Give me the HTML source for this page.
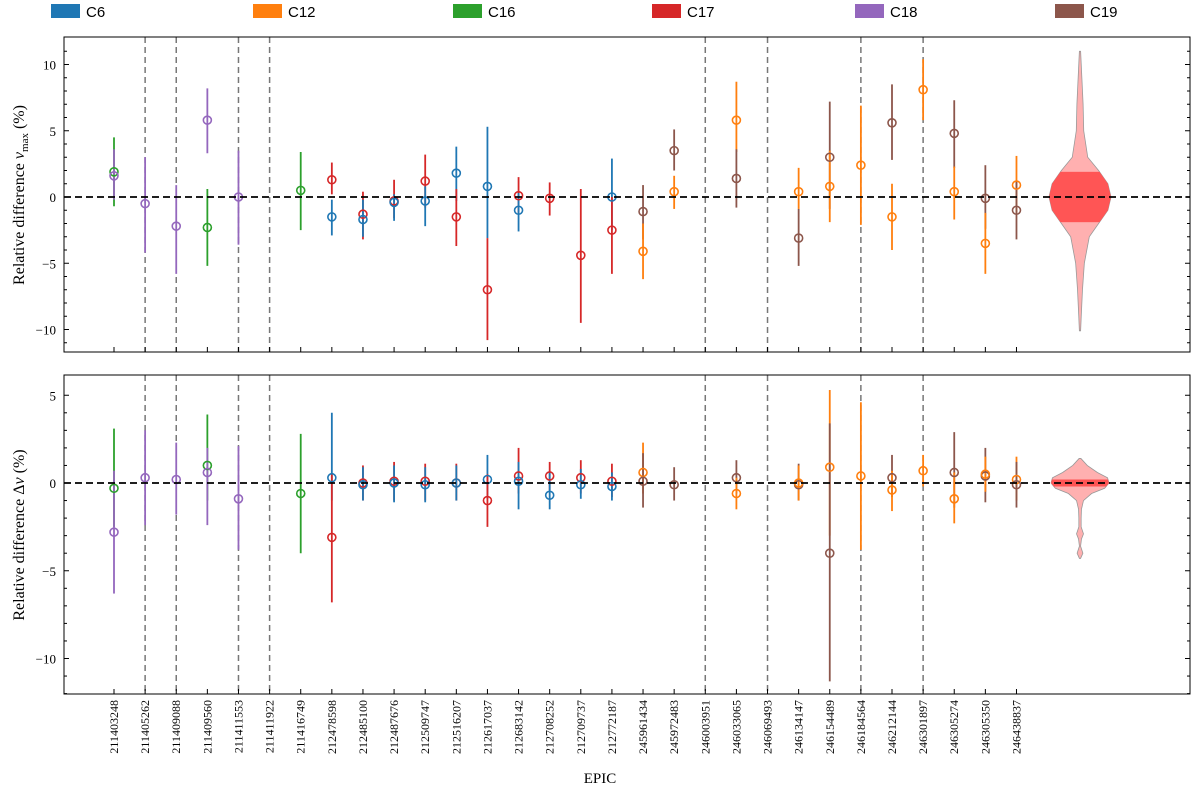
<!DOCTYPE html>
<html><head><meta charset="utf-8"><style>
body{margin:0;background:#fff}
svg text{font-family:"Liberation Serif","DejaVu Serif",serif;fill:#000}
</style></head><body>
<svg id="c" width="1200" height="790" xmlns="http://www.w3.org/2000/svg"></svg>
<script>
const epics=["211403248","211405262","211409088","211409560","211411553","211411922","211416749","212478598","212485100","212487676","212509747","212516207","212617037","212683142","212708252","212709737","212772187","245961434","245972483","246003951","246033065","246069493","246134147","246154489","246184564","246212144","246301897","246305274","246305350","246438837"];
const campaigns=["C6","C12","C16","C17","C18","C19"];
const campColors=["#1f77b4","#ff7f0e","#2ca02c","#d62728","#9467bd","#8c564b"];
const dividers=[1,2,4,5,19,21,24,26];
// top panel: numax
const topIdx=[0,0,1,2,3,3,4,6,7,7,8,8,9,9,10,10,11,11,12,12,13,13,14,15,16,16,17,17,18,18,20,20,22,22,23,23,24,25,25,26,27,27,28,28,29,29];
const topCamp=["C16","C18","C18","C18","C18","C16","C18","C16","C17","C6","C17","C6","C17","C6","C17","C6","C6","C17","C6","C17","C17","C6","C17","C17","C6","C17","C19","C12","C19","C12","C12","C19","C12","C19","C19","C12","C12","C19","C12","C12","C19","C12","C19","C12","C12","C19"];
const topVal=[1.9,1.6,-0.5,-2.2,5.8,-2.3,0,0.5,1.3,-1.5,-1.3,-1.7,-0.3,-0.4,1.2,-0.3,1.8,-1.5,0.8,-7.0,0.1,-1.0,-0.1,-4.4,0,-2.5,-1.1,-4.1,3.5,0.4,5.8,1.4,0.4,-3.1,3.0,0.8,2.4,5.6,-1.5,8.1,4.8,0.4,-0.1,-3.5,0.9,-1.0];
const topLo=[-0.7,-0.2,-4.2,-5.8,3.3,-5.2,-3.6,-2.5,0.2,-2.9,-3.2,-3.0,-1.6,-1.8,-0.8,-2.2,-0.3,-3.7,-3.1,-10.8,-1.2,-2.6,-1.4,-9.5,-2.5,-5.8,-3.2,-6.2,2.0,-0.9,3.4,-0.8,-0.9,-5.2,-0.9,-1.9,-2.1,2.8,-4.0,5.8,2.2,-1.7,-2.4,-5.8,-1.2,-3.2];
const topHi=[4.5,3.6,3.0,0.9,8.2,0.6,3.5,3.4,2.6,-0.2,0.4,-0.2,1.3,0.2,3.2,0.8,3.8,0.6,5.3,-3.1,1.5,0.3,1.1,0.6,2.9,0.0,0.9,-2.0,5.1,1.6,8.7,3.6,2.2,-0.9,7.2,3.5,6.9,8.5,1.0,10.4,7.3,2.3,2.4,-1.2,3.1,1.2];
// bottom panel: delta nu
const botIdx=[0,0,1,2,3,3,4,6,7,7,8,8,9,9,10,10,11,11,12,12,13,13,14,14,15,15,16,16,17,17,18,20,20,22,22,23,23,24,25,25,26,27,27,28,28,29,29];
const botCamp=["C16","C18","C18","C18","C16","C18","C18","C16","C6","C17","C17","C6","C17","C6","C17","C6","C17","C6","C6","C17","C17","C6","C17","C6","C17","C6","C17","C6","C12","C19","C19","C19","C12","C19","C12","C12","C19","C12","C19","C12","C12","C19","C12","C19","C12","C12","C19"];
const botVal=[-0.3,-2.8,0.3,0.2,1.0,0.6,-0.9,-0.6,0.3,-3.1,0.0,-0.1,0.1,0.0,0.1,-0.1,0.0,0.0,0.2,-1.0,0.4,0.1,0.4,-0.7,0.3,-0.1,0.1,-0.2,0.6,0.1,-0.1,0.3,-0.6,-0.1,0.0,0.9,-4.0,0.4,0.3,-0.4,0.7,0.6,-0.9,0.4,0.5,0.2,-0.1];
const botLo=[-2.5,-6.3,-2.4,-1.8,-1.0,-2.4,-3.8,-4.0,-1.0,-6.8,-1.0,-1.0,-1.0,-1.1,-1.0,-1.1,-1.0,-1.0,-0.9,-2.5,-0.6,-1.5,-0.4,-1.5,-0.6,-0.9,-0.8,-1.0,-0.6,-1.4,-1.0,-0.6,-1.5,-1.0,-1.0,-3.0,-11.3,-3.8,-0.8,-1.6,-0.2,-1.4,-2.3,-1.1,-0.5,-1.0,-1.4];
const botHi=[3.1,0.7,3.0,2.3,3.9,2.0,2.1,2.8,4.0,0.5,1.0,0.9,1.2,1.0,1.1,0.9,1.1,1.0,1.6,0.5,2.0,1.2,1.2,0.6,1.3,0.8,1.1,0.6,2.3,1.7,0.9,1.3,0.3,1.1,1.0,5.3,3.4,4.6,1.6,0.7,1.6,2.9,0.6,2.0,1.5,1.5,1.2];
// violin density profiles (value, half-width fraction)
const vTopY=[11,9,7,5,3,2,1,0,-1,-2,-3,-5,-7,-9,-10.1];
const vTopW=[0.02,0.06,0.1,0.12,0.25,0.6,0.9,1,0.9,0.6,0.3,0.14,0.08,0.04,0.02];
const vBotY=[1.4,1.0,0.6,0.3,0,-0.3,-0.6,-1.0,-1.5,-2.0,-2.5,-2.9,-3.2,-3.6,-4.0,-4.3];
const vBotW=[0.03,0.25,0.6,0.95,1,0.85,0.4,0.12,0.05,0.04,0.04,0.12,0.05,0.02,0.1,0.02];

const NS="http://www.w3.org/2000/svg",svg=document.getElementById('c');
function el(t,a,p){const e=document.createElementNS(NS,t);for(const k in a)e.setAttribute(k,a[k]);(p||svg).appendChild(e);return e;}
const X0=64,X1=1190;
const xOf=i=>114+i*31.12;
const panels=[
 {top:37,bot:352,y:v=>197-v*13.25,ticks:[-10,-5,0,5,10],minor:[-11,-9,-8,-7,-6,-4,-3,-2,-1,1,2,3,4,6,7,8,9,11],idx:topIdx,camp:topCamp,val:topVal,lo:topLo,hi:topHi,vy:vTopY,vw:vTopW,vwid:31,band:1.9,name:"numax"},
 {top:375,bot:694,y:v=>483-v*17.55,ticks:[-10,-5,0,5],minor:[-12,-11,-9,-8,-7,-6,-4,-3,-2,-1,1,2,3,4],idx:botIdx,camp:botCamp,val:botVal,lo:botLo,hi:botHi,vy:vBotY,vw:vBotW,vwid:29,band:0.2,name:"dnu"}
];
panels.forEach(P=>{
 const g=el('g',{});
 
 
 dividers.forEach(d=>{const l=el('line',{x1:xOf(d),x2:xOf(d),y1:P.top,y2:P.bot,stroke:'#777','stroke-width':1.5,'stroke-dasharray':'6,4'},g);
  });
 // violin
 const vx=1080;let pts=[];
 for(let i=0;i<P.vy.length;i++)pts.push([vx+P.vw[i]*P.vwid,P.y(P.vy[i])]);
 for(let i=P.vy.length-1;i>=0;i--)pts.push([vx-P.vw[i]*P.vwid,P.y(P.vy[i])]);
 const vp=el('polygon',{points:pts.map(p=>p.join(',')).join(' '),fill:'#ffb0b0',stroke:'#999','stroke-width':0.8},g);
 
 const cp=el('clipPath',{id:'cl'+P.name},g);
 el('polygon',{points:pts.map(p=>p.join(',')).join(' ')},cp);
 const b=el('rect',{x:vx-P.vwid,y:P.y(P.band),width:2*P.vwid,height:P.y(-P.band)-P.y(P.band),fill:'#ff5555','clip-path':'url(#cl'+P.name+')'},g);
 
 // points
 P.idx.forEach((ix,k)=>{
  const c=campColors[campaigns.indexOf(P.camp[k])],x=xOf(ix);
  const l=el('line',{x1:x,x2:x,y1:P.y(P.lo[k]),y2:P.y(P.hi[k]),stroke:c,'stroke-width':1.8},g);
  
 });
 P.idx.forEach((ix,k)=>{
  const c=campColors[campaigns.indexOf(P.camp[k])],x=xOf(ix);
  const m=el('circle',{cx:x,cy:P.y(P.val[k]),r:4,fill:'none',stroke:c,'stroke-width':1.6},g);
  
 });
 const z=el('line',{x1:X0,x2:X1,y1:P.y(0),y2:P.y(0),stroke:'#000','stroke-width':1.8,'stroke-dasharray':'7,4'},g);
 
 const fr=el('rect',{x:X0,y:P.top,width:X1-X0,height:P.bot-P.top,fill:'none',stroke:'#000','stroke-width':1},g);
 
 P.ticks.forEach(t=>{const y=P.y(t);
  el('line',{x1:X0,x2:X0+5,y1:y,y2:y,stroke:'#000'},g);el('line',{x1:X1,x2:X1-5,y1:y,y2:y,stroke:'#000'},g);
  const tx=el('text',{x:X0-8,y:y+5,'text-anchor':'end','font-size':13},g);tx.textContent=t===0?'0':(t<0?'−'+(-t):t);
  });
 P.minor.forEach(t=>{const y=P.y(t);if(y<P.top||y>P.bot)return;
  el('line',{x1:X0,x2:X0+3,y1:y,y2:y,stroke:'#000'},g);el('line',{x1:X1,x2:X1-3,y1:y,y2:y,stroke:'#000'},g);});
 epics.forEach((e,i)=>{el('line',{x1:xOf(i),x2:xOf(i),y1:P.bot,y2:P.bot-5,stroke:'#000'},g);});
});
// y titles
const t1=el('text',{transform:'translate(24,195) rotate(-90)','text-anchor':'middle','font-size':16});
t1.innerHTML='Relative difference <tspan font-style="italic">ν</tspan><tspan font-size="11" dy="4">max</tspan><tspan dy="-4"> (%)</tspan>';

const t2=el('text',{transform:'translate(24,535) rotate(-90)','text-anchor':'middle','font-size':16});
t2.innerHTML='Relative difference Δ<tspan font-style="italic">ν</tspan> (%)';

// x labels
epics.forEach((e,i)=>{const t=el('text',{transform:`translate(${xOf(i)+4},700) rotate(-90)`,'text-anchor':'end','font-size':12});t.textContent=e;
 });
const xt=el('text',{x:600,y:783,'text-anchor':'middle','font-size':15});xt.textContent='EPIC';

// legend
const lx=[51,253,453,652,855,1055];
campaigns.forEach((c,i)=>{const g=el('g',{});
 
 el('rect',{x:lx[i],y:4,width:29,height:14,fill:campColors[i]},g);
 const t=el('text',{x:lx[i]+35,y:17,'font-size':15,style:'font-family:"Liberation Sans",sans-serif'},g);t.textContent=c;});
</script>
</body></html>
